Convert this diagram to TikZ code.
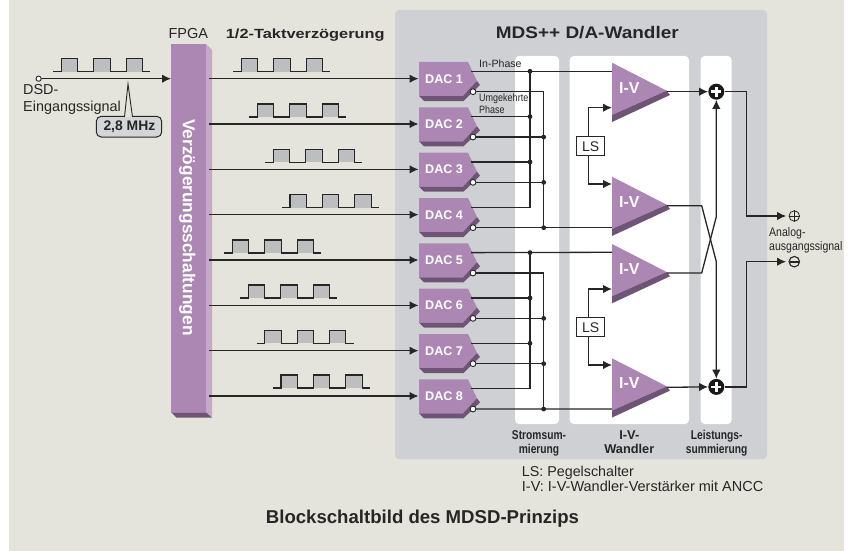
\documentclass[tikz,border=0pt]{standalone}
\usepackage{fontspec}
\setmainfont{Liberation Sans}
\newfontfamily\narrowf[FakeStretch=0.85]{Liberation Sans}
\newfontfamily\slimf[FakeStretch=0.8]{Liberation Sans}
\newfontfamily\widef[FakeStretch=1.13]{Liberation Sans}
\newfontfamily\widerf[FakeStretch=1.23]{Liberation Sans}
\usetikzlibrary{arrows.meta}
\definecolor{bgc}{HTML}{E4E4DC}
\definecolor{panelc}{HTML}{CFD0D3}
\definecolor{purp}{HTML}{AD87B3}
\definecolor{purpl}{HTML}{C4A9CB}
\definecolor{purpd}{HTML}{6F5478}
\definecolor{ink}{HTML}{262626}
\definecolor{pulsec}{HTML}{BDBEC0}
\tikzset{
  wire/.style={draw=ink,line width=1.3pt},
  arr/.style={wire,-{Latex[length=9pt,width=8.5pt]}},
  txt/.style={anchor=base west,inner sep=0pt,text=ink},
  ctxt/.style={anchor=base,inner sep=0pt,text=ink},
  whitep/.style={fill=white,rounded corners=4pt},
  dot/.style={fill=ink},
  whtxt/.style={anchor=base west,inner sep=0pt,text=white,font=\fontsize{12.6}{14}\selectfont\bfseries},
}
\newcommand{\fsz}[1]{\fontsize{#1}{#1}\selectfont}
\newcommand{\pulsetrain}[2]{%
  \fill[pulsec] (#1+8,#2) rectangle (#1+24.4,#2-13);
  \fill[pulsec] (#1+40.4,#2) rectangle (#1+56.8,#2-13);
  \fill[pulsec] (#1+72.8,#2) rectangle (#1+89.2,#2-13);
  \draw[draw=ink,line width=1.1pt] (#1,#2) -- ++(8,0) -- ++(0,-13) -- ++(16.4,0) -- ++(0,13) -- ++(16,0) -- ++(0,-13) -- ++(16.4,0) -- ++(0,13) -- ++(16,0) -- ++(0,-13) -- ++(16.4,0) -- ++(0,13) -- ++(7.8,0);
}
\begin{document}
\begin{tikzpicture}[x=1pt,y=-1pt]
\useasboundingbox (0,0) rectangle (849,551);
\fill[bgc] (9,0) rectangle (844,551);
\fill[panelc,rounded corners=4pt] (395,10) rectangle (767,459);
\fill[whitep] (515,56) rectangle (559,424);
\fill[whitep] (569.7,56) rectangle (689,424);
\fill[whitep] (700.7,56) rectangle (731.7,424);

% FPGA
\fill[purp] (171,44) rectangle (206,412.3);
\fill[purpl] (206,44) -- (212,50) -- (212,417.7) -- (206,412.3) -- cycle;
\fill[purpd] (171,412.3) -- (206,412.3) -- (212,417.7) -- (176.7,417.7) -- cycle;
\node[anchor=base,rotate=-90,inner sep=0pt,text=white,font=\fsz{17.3}\bfseries] (fpga) at (182.9,227.5) {Verzögerungsschaltungen};

% Input
\coordinate (inp) at (38.6,78.7);
\coordinate (fpgain) at (171,78.7);
\draw[arr] (inp) -- (fpgain);
\draw[draw=ink,fill=white,line width=0.9pt] (inp) circle (2.6);
\pulsetrain{53.3}{71.7}
\node[txt,font=\fsz{14.4}] (dsd) at (23,95) {DSD-};
\node[txt,font=\fsz{14.4}] (dsd2) at (23,111.7) {Eingangssignal};
\draw[draw=ink,fill=panelc!90!white,line width=1pt,rounded corners=5pt] (96.3,116.3) rectangle (161.7,137);
\fill[bgc] (128,84) -- (124.5,117) -- (132.5,117) -- cycle;
\draw[draw=ink,line width=0.9pt] (124.5,117) -- (128,84) -- (132.5,117);
\node[txt,font=\fsz{13.9}\bfseries] (mhz) at (103.3,130.7) {2,8 MHz};

% Titles
\node[txt,font=\fsz{14.5}] (fpgat) at (168.3,38.3) {FPGA};
\node[txt,font=\widerf\fsz{13.3}\bfseries] (takt) at (225.7,38.3) {1/2-Taktverzögerung};
\node[txt,font=\widef\fsz{16.8}\bfseries] (mds) at (495.7,39) {MDS++ D/A-Wandler};

% Delayed pulses
\pulsetrain{233.3}{71.7}
\pulsetrain{249.3}{117}
\pulsetrain{265.3}{162.3}
\pulsetrain{282}{207.7}
\pulsetrain{224.3}{253}
\pulsetrain{240.3}{298}
\pulsetrain{256.7}{343.3}
\pulsetrain{273}{388}

% DAC blocks and their ports
\foreach \i/\t in {1/62,2/107.33,3/152.67,4/198,5/243.33,6/288.67,7/334,8/379.33}{
  \fill[purp] (419,\t) -- (468,\t) -- (477,\t+19) -- (463,\t+34) -- (419,\t+34) -- cycle;
  \fill[purpd] (419,\t+34) -- (463,\t+34) -- (477,\t+19) -- (480,\t+23) -- (463.5,\t+39) -- (424,\t+39) -- cycle;
  \node[whtxt] (dac\i) at (425,\t+21.3) {DAC \i};
  \coordinate (in\i) at (418.5,\t+16.7);
  \coordinate (fo\i) at (209,\t+16.7);
  \coordinate (p\i) at (471,\t+9.3);
  \coordinate (n\i) at (473,\t+29.7);
  \draw[arr] (fo\i) -- (in\i);
}

% I-V amplifiers
\foreach \k/\t in {1/62.7,2/176.7,3/244,4/358.3}{
  \fill[purp] (612,\t) -- (666.7,\t+28) -- (612,\t+52.3) -- cycle;
  \fill[purpd] (612,\t+52.3) -- (666.7,\t+28) -- (670,\t+32.3) -- (612,\t+59.3) -- cycle;
  \node[whtxt,font=\fsz{15.9}\bfseries] (iv\k) at (619,\t+30.6) {I-V};
  \coordinate (ivo\k) at (667,\t+29);
}
\coordinate (ivp1) at (612,71.3);
\coordinate (ivn1) at (612,107.7);
\coordinate (ivp2) at (612,184);
\coordinate (ivn2) at (612,227.7);
\coordinate (ivp3) at (612,252.3);
\coordinate (ivn3) at (612,289);
\coordinate (ivp4) at (612,365);
\coordinate (ivn4) at (612,409);

% Current summing, upper group
\coordinate (bp1) at (530,71.3);
\coordinate (bn1) at (543.7,91.7);
\draw[wire] (p1) -- (ivp1);
\draw[wire] (p4) -| (bp1);
\draw[wire] (p2) -- (p2-|bp1);
\draw[wire] (p3) -- (p3-|bp1);
\draw[wire] (n1) -| (bn1 |- n4);
\draw[wire] (n2) -- (n2-|bn1);
\draw[wire] (n3) -- (n3-|bn1);
\draw[wire] (n4) -- (ivn2);
\foreach \j in {p1,p2,p3}{\fill[dot] (\j-|bp1) circle (2.4);}
\foreach \j in {n2,n3,n4}{\fill[dot] (\j-|bn1) circle (2.4);}

% Current summing, lower group
\draw[wire] (p5) -- (ivp3);
\draw[wire] (p8) -| (bp1|-p5);
\draw[wire] (p6) -- (p6-|bp1);
\draw[wire] (p7) -- (p7-|bp1);
\draw[wire] (n5) -| (bn1 |- n8);
\draw[wire] (n6) -- (n6-|bn1);
\draw[wire] (n7) -- (n7-|bn1);
\draw[wire] (n8) -- (ivn4);
\foreach \j in {p5,p6,p7}{\fill[dot] (\j-|bp1) circle (2.4);}
\foreach \j in {n6,n7,n8}{\fill[dot] (\j-|bn1) circle (2.4);}

% inverted-output ports
\foreach \i in {1,...,8}{\draw[draw=ink,fill=white,line width=0.9pt] (n\i) circle (2.9);}

% Phase labels
\node[txt,font=\fsz{10.6}] (inph) at (479,67.7) {In-Phase};
\node[txt,font=\narrowf\fsz{10.6}] (umg) at (479,101.7) {Umgekehrte};
\node[txt,font=\narrowf\fsz{10.6}] (phs) at (479,113.3) {Phase};

% LS switches
\node[draw=ink,fill=white,line width=0.9pt,minimum width=28pt,minimum height=19pt,inner sep=0pt,font=\fsz{14},text=ink] (ls1) at (590.7,146.2) {LS};
\node[draw=ink,fill=white,line width=0.9pt,minimum width=28pt,minimum height=19pt,inner sep=0pt,font=\fsz{14},text=ink] (ls2) at (590.7,327.3) {LS};
\coordinate (lsa) at (588.7,146.2);
\coordinate (lsb) at (588.7,327.3);
\draw[arr] (lsa|-ls1.north) |- (ivn1);
\draw[arr] (lsa|-ls1.south) |- (ivp2);
\draw[arr] (lsb|-ls2.north) |- (ivn3);
\draw[arr] (lsb|-ls2.south) |- (ivp4);

% Power summing
\node[circle,fill=black!90,minimum size=16pt,inner sep=0pt] (s1) at (716.3,91.7) {};
\node[circle,fill=black!90,minimum size=16pt,inner sep=0pt] (s2) at (716.3,386.9) {};
\foreach \s in {s1,s2}{
  \draw[white,line width=2.6pt] ([xshift=-5pt]\s.center) -- ([xshift=5pt]\s.center);
  \draw[white,line width=2.6pt] ([yshift=-5pt]\s.center) -- ([yshift=5pt]\s.center);
}
\coordinate (xa) at (701.7,205.7);
\coordinate (xb) at (716.3,261.7);
\coordinate (xc) at (701.7,273);
\coordinate (xd) at (716.3,216.7);
\draw[arr] (ivo1) -- (s1.west);
\draw[arr] (ivo4) -- (s2.west);
\draw[arr,line join=round] (ivo2|-xa) -- (xa) -- (xb) -- (s2.north);
\draw[arr,line join=round] (ivo3|-xc) -- (xc) -- (xd) -- (s1.south);

% Outputs
\node[circle,draw=ink,line width=0.8pt,minimum size=10.5pt,inner sep=0pt] (op) at (794.3,216) {};
\node[circle,draw=ink,line width=1.1pt,minimum size=10.5pt,inner sep=0pt] (om) at (794.3,261.7) {};
\draw[draw=ink,line width=0.8pt] (op.west) -- (op.east) (op.north) -- (op.south);
\draw[draw=ink,line width=1.6pt] ([xshift=1.5pt]om.west) -- ([xshift=-1.5pt]om.east);
\coordinate (bendx) at (746.7,216);
\draw[arr] (s1.east) -| (bendx) -- ([xshift=-2.5pt]op.west);
\draw[arr] (s2.east) -| (bendx|-om) -- ([xshift=-2.5pt]om.west);
\node[txt,font=\narrowf\fsz{12.4}] (ana) at (769,236) {Analog-};
\node[txt,font=\narrowf\fsz{12.4}] (ana2) at (769,250) {ausgangssignal};

% Bottom labels
\node[ctxt,font=\slimf\fsz{12.8}\bfseries] (st1) at (539,439) {Stromsum-};
\node[ctxt,font=\slimf\fsz{12.8}\bfseries] (st2) at (539,453) {mierung};
\node[ctxt,font=\fsz{12.8}\bfseries] (w1) at (629.3,439) {I-V-};
\node[ctxt,font=\fsz{12.8}\bfseries] (w2) at (629.3,453) {Wandler};
\node[ctxt,font=\slimf\fsz{12.8}\bfseries] (l1) at (716.7,439) {Leistungs-};
\node[ctxt,font=\slimf\fsz{12.8}\bfseries] (l2) at (716.7,453) {summierung};
\node[txt,font=\fsz{14.3}] (leg1) at (521.7,476.7) {LS: Pegelschalter};
\node[txt,font=\fsz{14.5}] (leg2) at (521.7,491.7) {I-V: I-V-Wandler-Verstärker mit ANCC};
\node[txt,font=\fsz{18.6}\bfseries] (cap) at (265.7,523.5) {Blockschaltbild des MDSD-Prinzips};
\end{tikzpicture}
\end{document}
